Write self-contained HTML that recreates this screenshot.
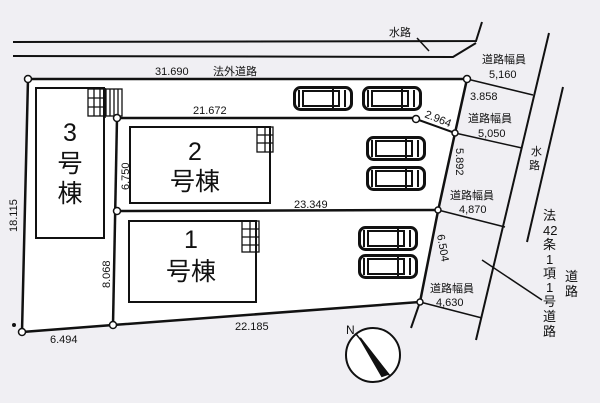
<!DOCTYPE html>
<html><head><meta charset="utf-8"><style>
html,body{margin:0;padding:0;background:#f0eff3;}
svg{display:block}
text{font-family:"Liberation Sans","Noto Sans CJK JP",sans-serif;fill:#111}
</style></head><body>
<svg width="600" height="403" viewBox="0 0 600 403" xmlns="http://www.w3.org/2000/svg">
<defs>
<g id="car">
<rect x="1.5" y="1.5" width="57" height="22" rx="6" fill="#fff" stroke="#111" stroke-width="3"/>
<rect x="10" y="5" width="36" height="15" fill="none" stroke="#111" stroke-width="2"/>
<line x1="40" y1="3" x2="40" y2="22" stroke="#111" stroke-width="2"/>
<line x1="6" y1="4" x2="6" y2="21" stroke="#111" stroke-width="2"/>
<line x1="52" y1="4" x2="52" y2="21" stroke="#111" stroke-width="2"/>
</g>
</defs>
<rect width="600" height="403" fill="#f0eff3"/>
<g stroke="#111" fill="none" stroke-width="2">
<!-- 水路 lines -->
<polyline points="13,42 476,41 482,22"/>
<polyline points="13,56 453,57 476,43"/>
<line x1="417" y1="38" x2="429" y2="51" stroke-width="1.5"/>
<!-- lot -->
<path d="M28,79 L467,79 L455,133 L438,211 L420,302 L113,325 L22,332 Z" fill="#fff" stroke-width="2.5"/>
<line x1="420" y1="302" x2="411" y2="328"/>
<line x1="117" y1="118" x2="416" y2="118" stroke-width="2.5"/>
<line x1="416" y1="119" x2="455" y2="133"/>
<line x1="117" y1="118" x2="113" y2="325" stroke-width="2.5"/>
<line x1="117" y1="211" x2="438" y2="210" stroke-width="2.5"/>
<line x1="105" y1="88" x2="105" y2="118" stroke-width="1.5"/>
<!-- buildings -->
<rect x="36" y="88" width="68" height="150" stroke-width="2"/>
<rect x="130" y="127" width="140" height="76" stroke-width="2"/>
<rect x="129" y="221" width="127" height="81" stroke-width="2"/>
<!-- stairs -->
<g stroke-width="1.3">
<rect x="88" y="89" width="34" height="27"/>
<line x1="88" y1="98" x2="106" y2="98"/><line x1="88" y1="107" x2="106" y2="107"/>
<line x1="94" y1="89" x2="94" y2="116"/><line x1="100" y1="89" x2="100" y2="116"/><line x1="106" y1="89" x2="106" y2="116"/>
<line x1="110" y1="89" x2="110" y2="116"/><line x1="114" y1="89" x2="114" y2="116"/><line x1="118" y1="89" x2="118" y2="116"/>
<rect x="257" y="127" width="16" height="25"/>
<line x1="257" y1="135" x2="273" y2="135"/><line x1="257" y1="143" x2="273" y2="143"/><line x1="265" y1="127" x2="265" y2="152"/>
<rect x="242" y="221" width="17" height="31"/>
<line x1="242" y1="229" x2="259" y2="229"/><line x1="242" y1="237" x2="259" y2="237"/><line x1="242" y1="245" x2="259" y2="245"/><line x1="250" y1="221" x2="250" y2="252"/>
</g>
<!-- road edges -->
<line x1="549" y1="33" x2="476" y2="340"/>
<line x1="563" y1="87" x2="527" y2="242"/>
<line x1="482" y1="260" x2="542" y2="300" stroke-width="1.5"/>
<!-- width arrows -->
<line x1="467" y1="79" x2="533" y2="95" stroke-width="1.5"/>
<line x1="455" y1="133" x2="522" y2="148" stroke-width="1.5"/>
<line x1="438" y1="210" x2="505" y2="227" stroke-width="1.5"/>
<line x1="420" y1="302" x2="482" y2="318" stroke-width="1.5"/>
<!-- compass -->
<circle cx="373" cy="355" r="27" fill="#fff"/>
<line x1="356" y1="334" x2="390" y2="376" stroke-width="1.5"/>
<polygon points="360,338 388,374 382,376" fill="#111"/>
</g>
<g fill="#fff" stroke="#111" stroke-width="1.5">
<circle cx="28" cy="79" r="3.5"/><circle cx="467" cy="79" r="3.5"/><circle cx="117" cy="118" r="3.5"/>
<circle cx="416" cy="119" r="3.5"/><circle cx="455" cy="133" r="3"/><circle cx="117" cy="211" r="3.5"/>
<circle cx="438" cy="210" r="3"/><circle cx="420" cy="302" r="3"/><circle cx="113" cy="325" r="3.5"/><circle cx="22" cy="332" r="3.5"/>
</g>
<circle cx="14" cy="325" r="2" fill="#111"/>
<use href="#car" x="293" y="86"/><use href="#car" x="362" y="86"/>
<use href="#car" x="366" y="136"/><use href="#car" x="366" y="166"/>
<use href="#car" x="358" y="226"/><use href="#car" x="358" y="254"/>
<g font-size="11">
<text x="389" y="36">水路</text>
<text x="155" y="75">31.690</text><text x="213" y="75">法外道路</text>
<text x="193" y="114">21.672</text>
<text x="294" y="208">23.349</text>
<text x="235" y="330">22.185</text>
<text x="50" y="343">6.494</text>
<text transform="translate(17,232) rotate(-90)">18.115</text>
<text transform="translate(129,190) rotate(-90)">6.750</text>
<text transform="translate(110,288) rotate(-90)">8.068</text>
<text transform="translate(424,117) rotate(22)">2.964</text>
<text transform="translate(456,148) rotate(90)">5.892</text>
<text transform="translate(437,235) rotate(80)">6.504</text>
<text x="470" y="100">3.858</text>
<text x="482" y="63">道路幅員</text><text x="489" y="78">5,160</text>
<text x="468" y="122">道路幅員</text><text x="478" y="137">5,050</text>
<text x="450" y="199">道路幅員</text><text x="459" y="213">4,870</text>
<text x="430" y="292">道路幅員</text><text x="436" y="306">4,630</text>
<text x="531" y="155">水</text><text x="529" y="169">路</text>
</g>
<g font-size="13">
<text x="543" y="220">法</text><text x="543" y="235">42</text><text x="543" y="249">条</text>
<text x="546" y="264">1</text><text x="543" y="278">項</text><text x="546" y="292">1</text>
<text x="543" y="306">号</text><text x="543" y="321">道</text><text x="543" y="336">路</text>
<text x="565" y="281">道</text><text x="565" y="296">路</text>
<text x="346" y="334" font-size="12">N</text>
</g>
<g font-size="25" text-anchor="middle">
<text x="70" y="141">3</text><text x="70" y="172">号</text><text x="70" y="202">棟</text>
<text x="195" y="160">2</text><text x="195" y="190">号棟</text>
<text x="191" y="248">1</text><text x="191" y="280">号棟</text>
</g>
</svg>
</body></html>
